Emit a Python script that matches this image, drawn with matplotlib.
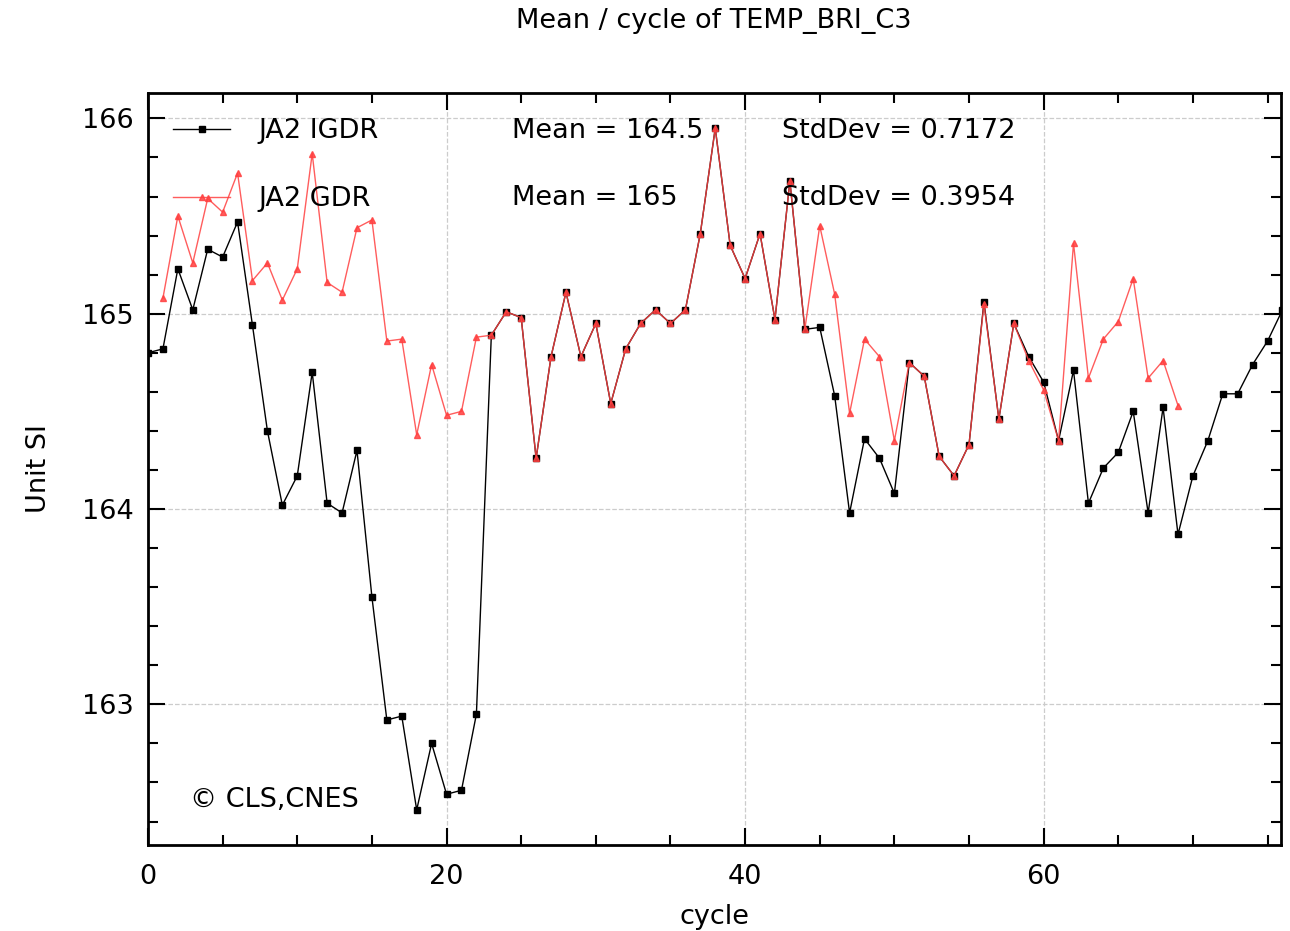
import matplotlib
matplotlib.use('Agg')
from matplotlib import pyplot as plt
from matplotlib.ticker import MultipleLocator

# Mean per cycle values
igdr_cycles = list(range(0, 77))
igdr_values = [164.80, 164.82, 165.23, 165.02, 165.33, 165.29, 165.47, 164.94, 164.40, 164.02,
               164.17, 164.70, 164.03, 163.98, 164.30, 163.55, 162.92, 162.94, 162.46, 162.80,
               162.54, 162.56, 162.95, 164.89, 165.01, 164.98, 164.26, 164.78, 165.11, 164.78,
               164.95, 164.54, 164.82, 164.95, 165.02, 164.95, 165.02, 165.41, 165.95, 165.35,
               165.18, 165.41, 164.97, 165.68, 164.92, 164.93, 164.58, 163.98, 164.36, 164.26,
               164.08, 164.75, 164.68, 164.27, 164.17, 164.33, 165.06, 164.46, 164.95, 164.78,
               164.65, 164.35, 164.71, 164.03, 164.21, 164.29, 164.50, 163.98, 164.52, 163.87,
               164.17, 164.35, 164.59, 164.59, 164.74, 164.86, 165.02]

gdr_cycles = list(range(1, 70))
gdr_values = [165.08, 165.50, 165.26, 165.59, 165.52, 165.72, 165.17, 165.26, 165.07,
              165.23, 165.82, 165.16, 165.11, 165.44, 165.48, 164.86, 164.87, 164.38, 164.74,
              164.48, 164.50, 164.88, 164.89, 165.01, 164.98, 164.26, 164.78, 165.11, 164.78,
              164.95, 164.54, 164.82, 164.95, 165.02, 164.95, 165.02, 165.41, 165.95, 165.35,
              165.18, 165.41, 164.97, 165.68, 164.92, 165.45, 165.10, 164.49, 164.87, 164.78,
              164.35, 164.75, 164.68, 164.27, 164.17, 164.33, 165.05, 164.46, 164.95, 164.76,
              164.61, 164.35, 165.36, 164.67, 164.87, 164.96, 165.18, 164.67, 164.76, 164.53]

series_labels = ['JA2 IGDR', 'JA2 GDR']
mean_texts = ['Mean = 164.5', 'Mean = 165']
std_texts = ['StdDev = 0.7172', 'StdDev = 0.3954']

fs = 19.5

fig = plt.figure(figsize=(12.9, 9.31), dpi=100)
ax = fig.add_axes([148 / 1290, 1 - 845 / 931, (1281 - 148) / 1290, (845 - 93) / 931])

ax.plot(igdr_cycles, igdr_values, color='black', linewidth=1, marker='s', markersize=4,
        label=series_labels[0])
ax.plot(gdr_cycles, gdr_values, color='#ff4040', linewidth=1, marker='^', markersize=4,
        alpha=0.85, label=series_labels[1])

ax.set_xlim(0, 75.9)
ax.set_ylim(162.28, 166.13)

ax.xaxis.set_major_locator(MultipleLocator(20))
ax.xaxis.set_minor_locator(MultipleLocator(5))
ax.yaxis.set_major_locator(MultipleLocator(1))
ax.yaxis.set_minor_locator(MultipleLocator(0.2))
ax.tick_params(which='both', direction='in', top=True, right=True, labelsize=fs, width=1.5)
ax.tick_params(which='major', length=12)
ax.tick_params(which='minor', length=7)
ax.tick_params(axis='x', pad=14)
ax.tick_params(axis='y', pad=10)
for sp in ax.spines.values():
    sp.set_linewidth(2)

ax.grid(True, which='major', linestyle='--', color='#cccccc', linewidth=0.9)

ax.set_xlabel('cycle', fontsize=fs, labelpad=10)
ax.set_ylabel('Unit SI', fontsize=fs, labelpad=22)
fig.suptitle('Mean / cycle of TEMP_BRI_C3', x=714 / 1290, y=1 - 8 / 931, fontsize=fs,
             va='top')

ax.legend(loc='upper left', bbox_to_anchor=(0.0, 1.0), frameon=False, fontsize=fs,
          handlelength=2.1, labelspacing=1.55, handletextpad=1.05, borderaxespad=0.53)

ax.text(0.321, 0.950, mean_texts[0], transform=ax.transAxes, fontsize=fs, va='center')
ax.text(0.321, 0.861, mean_texts[1], transform=ax.transAxes, fontsize=fs, va='center')
ax.text(0.560, 0.950, std_texts[0], transform=ax.transAxes, fontsize=fs, va='center')
ax.text(0.560, 0.861, std_texts[1], transform=ax.transAxes, fontsize=fs, va='center')
ax.text(0.037, 0.060, '\u00a9 CLS,CNES', transform=ax.transAxes, fontsize=fs, va='center')

fig.savefig('out.png', dpi=100)
